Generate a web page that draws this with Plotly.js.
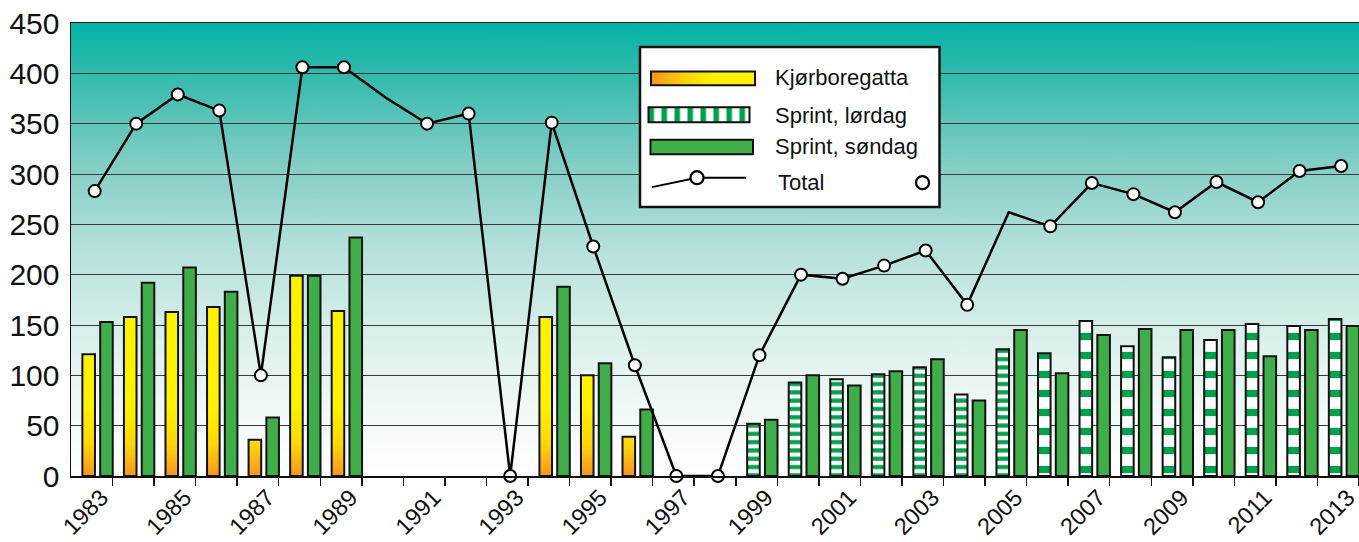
<!DOCTYPE html>
<html><head><meta charset="utf-8">
<script src="https://cdn.plot.ly/plotly-3.0.1.min.js"></script>
<style>html,body{margin:0;padding:0;background:#fff}#chart{width:1359px;height:542px}</style>
</head><body><div id="chart"></div>
<script>
// ---------- data ----------
const years = [1983,1984,1985,1986,1987,1988,1989,1990,1991,1992,1993,1994,1995,1996,1997,1998,
               1999,2000,2001,2002,2003,2004,2005,2006,2007,2008,2009,2010,2011,2012,2013];
const kjorboregatta = [121,158,163,168,36,199,164,null,null,null,null,158,100,39,null,null,
               null,null,null,null,null,null,null,null,null,null,null,null,null,null,null];
const sprintLordag = [null,null,null,null,null,null,null,null,null,null,null,null,null,null,null,null,
               52,93,96,101,108,81,126,122,154,129,118,135,151,149,156];
const sprintSondag = [153,192,207,183,58,199,237,null,null,null,null,188,112,66,null,null,
               56,100,90,104,116,75,145,102,140,146,145,145,119,145,149];
const total = [283,350,379,363,100,406,406,376,350,360,0,351,228,110,0,0,
               120,200,196,209,224,170,262,248,291,280,262,292,272,303,308];
const totalWithoutMarker = [1990, 2005];
const tickLabels = ['1983','1985','1987','1989','1991','1993','1995','1997','1999','2001','2003','2005','2007','2009','2011','2013'];
const seriesNames = ['Kjørboregatta','Sprint, lørdag','Sprint, søndag','Total'];

// ---------- layout constants ----------
const W = 1359, H = 542;
const M = {l: 71, r: 0, t: 22.5, b: 65.5};
const SHIFT = 0.43;               // year boundary offset relative to the marker position
const LEFT_OFF = -0.296, RIGHT_OFF = 0.132, BAR_W = 0.303;
const FONT = 'Liberation Sans, Arial, Helvetica, sans-serif';
const YELLOW = '#fff200', ORANGE = '#f7941d', GREEN = '#3fae49', STRIPE = '#00a14b';
const COARSE_STRIPES_FROM = 2006;  // stripe pattern of the drawing gets wider from here

const plotW = W - M.l - M.r, plotH = H - M.t - M.b;
const px = x => (x - M.l) / plotW;
const py = y => (H - M.b - y) / plotH;
const pw = w => w / plotW;
const ph = h => h / plotH;

function canvasURL(w, h, draw) {
  const c = document.createElement('canvas'); c.width = w; c.height = h;
  const g = c.getContext('2d'); draw(g, w, h); return c.toDataURL('image/png');
}
const bgURL = canvasURL(8, 460, (g, w, h) => {
  const gr = g.createLinearGradient(0, 0, 0, h);
  gr.addColorStop(0, '#02b3a5');
  gr.addColorStop(0.12, '#35bbae');
  gr.addColorStop(0.3, '#7fcdc4');
  gr.addColorStop(0.5, '#b6e1db');
  gr.addColorStop(0.7, '#dcf0ec');
  gr.addColorStop(0.85, '#f1f9f8');
  gr.addColorStop(1, '#ffffff');
  g.fillStyle = gr; g.fillRect(0, 0, w, h);
});
const whiteURL = canvasURL(4, 4, (g, w, h) => { g.fillStyle = '#fff'; g.fillRect(0, 0, w, h); });
const kjorSwatchURL = canvasURL(104, 14, (g, w, h) => {
  const gr = g.createLinearGradient(0, 0, w, 0);
  gr.addColorStop(0, ORANGE); gr.addColorStop(0.35, '#ffd50a'); gr.addColorStop(0.6, YELLOW); gr.addColorStop(1, YELLOW);
  g.fillStyle = gr; g.fillRect(0, 0, w, h);
});
const stripeSwatchURL = canvasURL(101, 15, (g, w, h) => {
  g.fillStyle = '#fff'; g.fillRect(0, 0, w, h);
  g.fillStyle = STRIPE;
  for (let x = 0; x < w; x += 13) g.fillRect(x, 0, 5.5, h);
});

// ---------- traces ----------
const kx = [], ky = [];
years.forEach((yr, i) => {
  const v = kjorboregatta[i]; if (v == null) return;
  const a = yr + LEFT_OFF, b = a + BAR_W;
  kx.push(a, a, b, b, a, null); ky.push(0, v, v, 0, 0, null);
});

const traces = [
  {type: 'scatter', mode: 'lines', name: seriesNames[0], x: kx, y: ky, fill: 'toself',
   fillgradient: {type: 'vertical', start: 0, stop: 70,
     colorscale: [[0, ORANGE], [0.45, '#ffd60a'], [1, YELLOW]]},
   line: {color: '#111', width: 2}, showlegend: false, hoverinfo: 'skip'},
  {type: 'bar', name: seriesNames[1], x: years, y: sprintLordag, offset: LEFT_OFF, width: BAR_W,
   marker: {color: '#ffffff', line: {color: '#111', width: 2},
     pattern: {shape: '-', fgcolor: STRIPE, bgcolor: '#ffffff', fillmode: 'replace',
       size: years.map(y => y >= COARSE_STRIPES_FROM ? 19 : 8.3),
       solidity: years.map(y => y >= COARSE_STRIPES_FROM ? 0.38 : 0.5)}},
   showlegend: false},
  {type: 'bar', name: seriesNames[2], x: years, y: sprintSondag, offset: RIGHT_OFF, width: BAR_W,
   marker: {color: GREEN, line: {color: '#111', width: 2}}, showlegend: false},
  {type: 'scatter', mode: 'lines', name: seriesNames[3], x: years, y: total,
   line: {color: '#000', width: 2.5}, showlegend: false, cliponaxis: false},
  {type: 'scatter', mode: 'markers', name: seriesNames[3], x: years,
   y: total.map((v, i) => totalWithoutMarker.includes(years[i]) ? null : v),
   marker: {symbol: 'circle', size: 12, color: '#ffffff', line: {color: '#000', width: 2}},
   showlegend: false, cliponaxis: false}
];

// ---------- legend (drawn with shapes, images and annotations) ----------
const box = {x0: 640, x1: 939.5, y0: 46.5, y1: 207};
const images = [
  {source: bgURL, xref: 'paper', yref: 'paper', x: 0, y: 1, sizex: 1, sizey: 1,
   xanchor: 'left', yanchor: 'top', sizing: 'stretch', layer: 'below'},
  {source: whiteURL, xref: 'paper', yref: 'paper', x: px(box.x0), y: py(box.y0), sizex: pw(box.x1 - box.x0), sizey: ph(box.y1 - box.y0),
   xanchor: 'left', yanchor: 'top', sizing: 'stretch', layer: 'above'},
  {source: kjorSwatchURL, xref: 'paper', yref: 'paper', x: px(651), y: py(71), sizex: pw(104), sizey: ph(14),
   xanchor: 'left', yanchor: 'top', sizing: 'stretch', layer: 'above'},
  {source: stripeSwatchURL, xref: 'paper', yref: 'paper', x: px(648.5), y: py(107), sizex: pw(101), sizey: ph(15),
   xanchor: 'left', yanchor: 'top', sizing: 'stretch', layer: 'above'}
];
const rect = (x0, y0, x1, y1, fill, lw) => ({type: 'rect', xref: 'paper', yref: 'paper',
  x0: px(x0), x1: px(x1), y0: py(y1), y1: py(y0), fillcolor: fill, line: {color: '#111', width: lw}, layer: 'above'});
const circ = (cx, cy, r) => ({type: 'circle', xref: 'paper', yref: 'paper',
  x0: px(cx - r), x1: px(cx + r), y0: py(cy + r), y1: py(cy - r), fillcolor: '#fff', line: {color: '#000', width: 2.2}, layer: 'above'});
const shapes = [
  rect(box.x0, box.y0, box.x1, box.y1, 'rgba(0,0,0,0)', 2.5),
  rect(651, 71, 755, 85, 'rgba(0,0,0,0)', 2),
  rect(648.5, 107, 749.5, 122, 'rgba(0,0,0,0)', 2),
  rect(650.5, 139.5, 753, 154, GREEN, 2),
  {type: 'path', xref: 'paper', yref: 'paper', layer: 'above', line: {color: '#000', width: 2},
   path: `M${px(652)},${py(187)} L${px(697)},${py(177.5)} L${px(746)},${py(177.5)}`},
  circ(697, 177.5, 6.5),
  circ(922.5, 182.5, 6.5)
];
const ann = (text, x, y) => ({text, xref: 'paper', yref: 'paper', x: px(x), y: py(y),
  xanchor: 'left', yanchor: 'middle', showarrow: false, font: {family: FONT, size: 22, color: '#111'}});
const annotations = [
  ann(seriesNames[0], 773, 77),
  ann(seriesNames[1], 773, 115),
  ann(seriesNames[2], 773, 146),
  ann(seriesNames[3], 776, 182)
];

const layout = {
  width: W, height: H, margin: M,
  paper_bgcolor: '#ffffff', plot_bgcolor: 'rgba(0,0,0,0)',
  barmode: 'overlay', showlegend: false,
  font: {family: FONT, color: '#111'},
  xaxis: {
    range: [1982 + SHIFT, 2013 + SHIFT],
    tickmode: 'array', tickvals: tickLabels.map(t => +t + SHIFT - 0.001), ticktext: tickLabels,
    tickangle: -45, tickfont: {family: FONT, size: 23.5, color: '#111'},
    ticks: 'outside', ticklen: 8, tickwidth: 1.5, tickcolor: '#111',
    ticklabelstandoff: -11, ticklabelshift: -11, ticklabeloverflow: 'allow',
    minor: {tickvals: years.map(y => y + SHIFT), ticks: 'outside', ticklen: 8, tickwidth: 1.5, tickcolor: '#111', showgrid: false},
    showgrid: false, zeroline: false,
    showline: true, linecolor: '#111', linewidth: 1.5, mirror: true
  },
  yaxis: {
    range: [0, 450], tickmode: 'linear', tick0: 0, dtick: 50,
    tickfont: {family: FONT, size: 30, color: '#111'},
    ticks: '', ticklabelstandoff: 4,
    showgrid: true, gridcolor: '#3a3a3a', gridwidth: 1, zeroline: false,
    showline: true, linecolor: '#111', linewidth: 1.5, mirror: true
  },
  images, shapes, annotations
};

Plotly.newPlot('chart', traces, layout, {displayModeBar: false, staticPlot: true});
</script></body></html>
